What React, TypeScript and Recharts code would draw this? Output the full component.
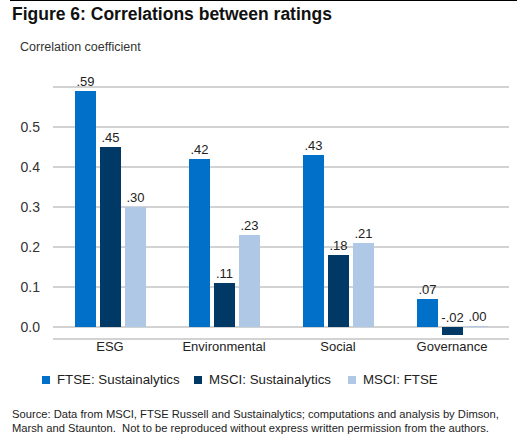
import React from 'react';
import { BarChart, Bar, XAxis, YAxis, CartesianGrid, LabelList } from 'recharts';

const categories = ['ESG', 'Environmental', 'Social', 'Governance'];
const ftseSust = [0.59, 0.42, 0.43, 0.07];
const msciSust = [0.45, 0.11, 0.18, -0.02];
const msciFtse = [0.3, 0.23, 0.21, 0.0];
const yTicks = [0, 0.1, 0.2, 0.3, 0.4, 0.5];

const series = [
  { key: 'ftseSust', name: 'FTSE: Sustainalytics', color: '#0070c8' },
  { key: 'msciSust', name: 'MSCI: Sustainalytics', color: '#003866' },
  { key: 'msciFtse', name: 'MSCI: FTSE', color: '#afc8e6' },
];

const data = categories.map((c, i) => ({
  category: c,
  ftseSust: ftseSust[i],
  msciSust: msciSust[i],
  msciFtse: msciFtse[i],
}));

const font = '"Liberation Sans", Arial, Helvetica, sans-serif';

const fmt = (v: number) => (v < 0 ? '-' : '') + Math.abs(v).toFixed(2).replace(/^0/, '');

const BarLabel = (props: any) => {
  const { x, y, width, height, value } = props;
  const top = Math.min(y, y + height);
  return (
    <text x={x + width / 2} y={top - 5} textAnchor="middle" fontSize={13} fill="#222" fontFamily={font}>
      {fmt(Number(value))}
    </text>
  );
};

export default function App() {
  return (
    <div style={{ position: 'absolute', left: 0, top: 0, width: 517, height: 442, background: '#fff', fontFamily: font, color: '#222' }}>
      <div style={{ position: 'absolute', left: 10, right: 0, top: 0, height: 1, background: '#000' }} />
      <div style={{ position: 'absolute', left: 12, top: 4, fontSize: 17.5, fontWeight: 700, color: '#111' }}>
        Figure 6: Correlations between ratings
      </div>
      <div style={{ position: 'absolute', left: 20, top: 40, fontSize: 12.5, color: '#333' }}>
        Correlation coefficient
      </div>

      <div style={{ position: 'absolute', left: 0, top: 0 }}>
        <BarChart width={517} height={360} data={data} margin={{ top: 87, right: 8, bottom: 0, left: 0 }}
          barCategoryGap={21} barGap={4}>
          <CartesianGrid horizontal vertical={false} stroke="#a6a6a6" />
          <XAxis dataKey="category" axisLine={false} tickLine={false} tickSize={0} tickMargin={3} height={21}
            tick={{ fontSize: 13, fill: '#222', fontFamily: font }} interval={0} />
          <YAxis domain={[-0.03, 0.6]} ticks={yTicks} axisLine={false} tickLine={false} tickSize={0} tickMargin={13}
            width={53} tickFormatter={(v) => v.toFixed(1)} tick={{ fontSize: 14, fill: '#333', fontFamily: font }} />
          {series.map((s) => (
            <Bar key={s.key} dataKey={s.key} name={s.name} fill={s.color} barSize={21}
              minPointSize={s.key === 'msciFtse' ? 1 : 0} isAnimationActive={false}>
              <LabelList dataKey={s.key} content={<BarLabel />} />
            </Bar>
          ))}
        </BarChart>
      </div>

      <div style={{ position: 'absolute', left: 0, top: 372, width: 517, fontSize: 13.3, color: '#222' }}>
        {series.map((s, i) => (
          <div key={s.key} style={{ position: 'absolute', left: [42, 194, 348][i], top: 0, display: 'flex', alignItems: 'center', whiteSpace: 'nowrap' }}>
            <span style={{ display: 'inline-block', width: 8, height: 8, background: s.color, marginRight: 7 }} />
            <span>{s.name}</span>
          </div>
        ))}
      </div>

      <div style={{ position: 'absolute', left: 12, top: 407, fontSize: 11.2, lineHeight: '14px', color: '#222', whiteSpace: 'nowrap' }}>
        Source: Data from MSCI, FTSE Russell and Sustainalytics; computations and analysis by Dimson,<br />
        Marsh and Staunton.&nbsp; Not to be reproduced without express written permission from the authors.
      </div>
    </div>
  );
}
